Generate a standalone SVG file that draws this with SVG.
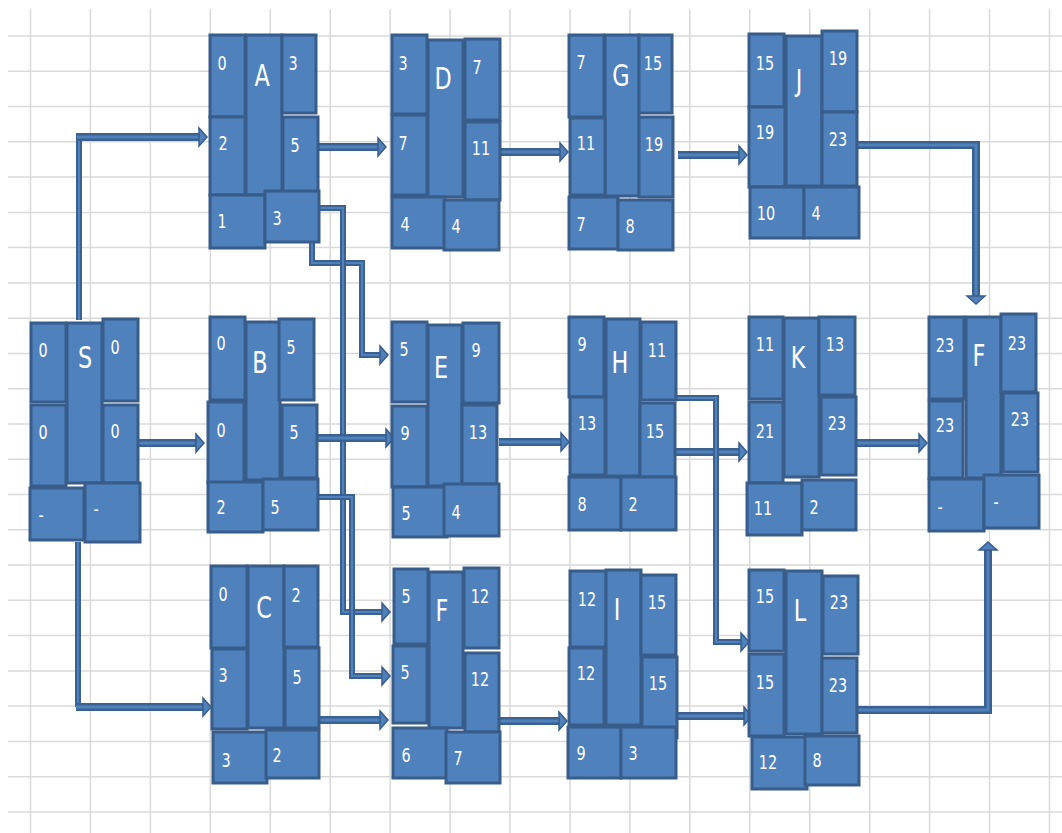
<svg xmlns="http://www.w3.org/2000/svg" width="1062" height="833" viewBox="0 0 1062 833">
<style>
.grid{stroke:#D9D9D9;stroke-width:1.5;fill:none}
.b{fill:#4F81BD;stroke:#385D8A;stroke-width:3}
.co{fill:none;stroke:#3A6190;stroke-width:8}
.ci{fill:none;stroke:#4F81BD;stroke-width:3}
.to{fill:none;stroke:#3A6190;stroke-width:6}
.ti{fill:none;stroke:#4F81BD;stroke-width:2}
text{fill:#FFFFFF;font-family:"DejaVu Sans Condensed","DejaVu Sans",sans-serif;text-anchor:middle}
.n{font-size:20px}
.L{font-size:31px}
</style>
<defs>
<marker id="ah" markerUnits="userSpaceOnUse" markerWidth="12" markerHeight="22" refX="0" refY="10" orient="auto" overflow="visible">
<path d="M0,1 L8,10 L0,19 z" fill="#4F81BD" stroke="#385D8A" stroke-width="1.5"/>
</marker>
</defs>
<rect width="1062" height="833" fill="#FFFFFF"/>
<g id="grid">
<path class="grid" d="M30.5,9V833M90.4,9V833M150.4,9V833M210.3,9V833M270.3,9V833M330.2,9V833M390.1,9V833M450.1,9V833M510,9V833M570,9V833M629.9,9V833M689.8,9V833M749.8,9V833M809.7,9V833M869.7,9V833M929.6,9V833M989.5,9V833M1049.5,9V833"/>
<path class="grid" d="M8,36H1062M8,71.3H1062M8,106.5H1062M8,141.8H1062M8,177.1H1062M8,212.4H1062M8,247.6H1062M8,282.9H1062M8,318.2H1062M8,353.4H1062M8,388.7H1062M8,424H1062M8,459.2H1062M8,494.5H1062M8,529.8H1062M8,565.1H1062M8,600.3H1062M8,635.6H1062M8,670.9H1062M8,706.1H1062M8,741.4H1062M8,776.7H1062M8,811.9H1062"/>
</g>
<g id="connectors">
<path class="to" d="M79,320V133"/><path class="ti" d="M79,320V133"/>
<path class="co" d="M77,137H199"/><path class="ci" d="M77,137H199" marker-end="url(#ah)"/>
<path class="co" d="M138,443H196"/><path class="ci" d="M138,443H196" marker-end="url(#ah)"/>
<path class="to" d="M78,542V707"/><path class="ti" d="M78,542V707"/>
<path class="co" d="M76,707H203"/><path class="ci" d="M76,707H203" marker-end="url(#ah)"/>
<path class="co" d="M318,147H378"/><path class="ci" d="M318,147H378" marker-end="url(#ah)"/>
<path class="to" d="M312,243V263H362V355H380"/><path class="ti" d="M312,243V263H362V355H380" marker-end="url(#ah)"/>
<path class="to" d="M318,208H343V612H382"/><path class="ti" d="M318,208H343V612H382" marker-end="url(#ah)"/>
<path class="co" d="M317,438H386"/><path class="ci" d="M317,438H386" marker-end="url(#ah)"/>
<path class="to" d="M318,497H352V676H382"/><path class="ti" d="M318,497H352V676H382" marker-end="url(#ah)"/>
<path class="co" d="M319,720H380"/><path class="ci" d="M319,720H380" marker-end="url(#ah)"/>
<path class="co" d="M500,152H560"/><path class="ci" d="M500,152H560" marker-end="url(#ah)"/>
<path class="co" d="M678,155H739"/><path class="ci" d="M678,155H739" marker-end="url(#ah)"/>
<path class="co" d="M857,145H976V296"/><path class="ci" d="M857,145H976V296" marker-end="url(#ah)"/>
<path class="co" d="M499,442H561"/><path class="ci" d="M499,442H561" marker-end="url(#ah)"/>
<path class="co" d="M676,452H739"/><path class="ci" d="M676,452H739" marker-end="url(#ah)"/>
<path class="to" d="M676,398H716V642H741"/><path class="ti" d="M676,398H716V642H741" marker-end="url(#ah)"/>
<path class="co" d="M500,721H559"/><path class="ci" d="M500,721H559" marker-end="url(#ah)"/>
<path class="co" d="M677,716H744"/><path class="ci" d="M677,716H744" marker-end="url(#ah)"/>
<path class="co" d="M856,443H919"/><path class="ci" d="M856,443H919" marker-end="url(#ah)"/>
<path class="co" d="M857,710H988V550"/><path class="ci" d="M857,710H988V550" marker-end="url(#ah)"/>
</g>
<g id="node-S">
<rect class="b" x="31" y="323" width="35" height="79"/>
<rect class="b" x="67" y="323" width="35" height="160"/>
<rect class="b" x="103" y="319" width="35" height="82"/>
<rect class="b" x="31" y="405" width="35" height="81"/>
<rect class="b" x="103" y="405" width="35" height="78"/>
<rect class="b" x="30" y="488" width="54" height="52"/>
<rect class="b" x="85" y="483" width="55" height="59"/>
<text class="n" transform="translate(43,357) scale(0.8,1)">0</text><text class="L" transform="translate(85,368) scale(0.8,1)">S</text><text class="n" transform="translate(115,354) scale(0.8,1)">0</text>
<text class="n" transform="translate(43,439) scale(0.8,1)">0</text><text class="n" transform="translate(115,438) scale(0.8,1)">0</text>
<text class="n" transform="translate(41,522) scale(0.8,1)">-</text><text class="n" transform="translate(96,516) scale(0.8,1)">-</text>
</g>
<g id="node-A">
<rect class="b" x="210" y="35" width="35" height="82"/>
<rect class="b" x="246" y="35" width="36" height="160"/>
<rect class="b" x="282" y="35" width="34" height="78"/>
<rect class="b" x="210" y="117" width="35" height="78"/>
<rect class="b" x="283" y="117" width="35" height="75"/>
<rect class="b" x="210" y="195" width="55" height="53"/>
<rect class="b" x="265" y="191" width="54" height="51"/>
<text class="n" transform="translate(222,70) scale(0.8,1)">0</text><text class="L" transform="translate(262,86) scale(0.8,1)">A</text><text class="n" transform="translate(293,70) scale(0.8,1)">3</text>
<text class="n" transform="translate(223,150) scale(0.8,1)">2</text><text class="n" transform="translate(295,152) scale(0.8,1)">5</text>
<text class="n" transform="translate(222,228) scale(0.8,1)">1</text><text class="n" transform="translate(277,225) scale(0.8,1)">3</text>
</g>
<g id="node-B">
<rect class="b" x="210" y="317" width="35" height="83"/>
<rect class="b" x="246" y="322" width="34" height="158"/>
<rect class="b" x="279" y="319" width="35" height="81"/>
<rect class="b" x="208" y="402" width="36" height="81"/>
<rect class="b" x="282" y="405" width="35" height="73"/>
<rect class="b" x="208" y="482" width="55" height="50"/>
<rect class="b" x="263" y="479" width="55" height="51"/>
<text class="n" transform="translate(221,350) scale(0.8,1)">0</text><text class="L" transform="translate(260,373) scale(0.8,1)">B</text><text class="n" transform="translate(291,354) scale(0.8,1)">5</text>
<text class="n" transform="translate(221,437) scale(0.8,1)">0</text><text class="n" transform="translate(294,439) scale(0.8,1)">5</text>
<text class="n" transform="translate(221,514) scale(0.8,1)">2</text><text class="n" transform="translate(275,514) scale(0.8,1)">5</text>
</g>
<g id="node-C">
<rect class="b" x="211" y="566" width="36" height="82"/>
<rect class="b" x="248" y="566" width="36" height="162"/>
<rect class="b" x="284" y="566" width="34" height="81"/>
<rect class="b" x="212" y="649" width="35" height="80"/>
<rect class="b" x="285" y="648" width="34" height="80"/>
<rect class="b" x="213" y="732" width="54" height="51"/>
<rect class="b" x="266" y="730" width="53" height="48"/>
<text class="n" transform="translate(223,601) scale(0.8,1)">0</text><text class="L" transform="translate(264,618) scale(0.8,1)">C</text><text class="n" transform="translate(296,602) scale(0.8,1)">2</text>
<text class="n" transform="translate(223,682) scale(0.8,1)">3</text><text class="n" transform="translate(297,684) scale(0.8,1)">5</text>
<text class="n" transform="translate(226,767) scale(0.8,1)">3</text><text class="n" transform="translate(277,762) scale(0.8,1)">2</text>
</g>
<g id="node-D">
<rect class="b" x="392" y="35" width="35" height="79"/>
<rect class="b" x="428" y="40" width="35" height="157"/>
<rect class="b" x="465" y="39" width="35" height="81"/>
<rect class="b" x="392" y="115" width="35" height="80"/>
<rect class="b" x="465" y="122" width="35" height="78"/>
<rect class="b" x="392" y="197" width="53" height="51"/>
<rect class="b" x="444" y="200" width="55" height="50"/>
<text class="n" transform="translate(403,70) scale(0.8,1)">3</text><text class="L" transform="translate(443,89) scale(0.8,1)">D</text><text class="n" transform="translate(477,74) scale(0.8,1)">7</text>
<text class="n" transform="translate(403,150) scale(0.8,1)">7</text><text class="n" transform="translate(481,155) scale(0.8,1)">11</text>
<text class="n" transform="translate(405,231) scale(0.8,1)">4</text><text class="n" transform="translate(456,233) scale(0.8,1)">4</text>
</g>
<g id="node-E">
<rect class="b" x="392" y="322" width="35" height="80"/>
<rect class="b" x="428" y="325" width="34" height="161"/>
<rect class="b" x="463" y="323" width="36" height="80"/>
<rect class="b" x="392" y="406" width="35" height="81"/>
<rect class="b" x="462" y="405" width="35" height="79"/>
<rect class="b" x="393" y="487" width="54" height="50"/>
<rect class="b" x="444" y="484" width="55" height="52"/>
<text class="n" transform="translate(404,356) scale(0.8,1)">5</text><text class="L" transform="translate(441,378) scale(0.8,1)">E</text><text class="n" transform="translate(476,357) scale(0.8,1)">9</text>
<text class="n" transform="translate(405,440) scale(0.8,1)">9</text><text class="n" transform="translate(478,439) scale(0.8,1)">13</text>
<text class="n" transform="translate(406,520) scale(0.8,1)">5</text><text class="n" transform="translate(456,519) scale(0.8,1)">4</text>
</g>
<g id="node-F1">
<rect class="b" x="394" y="569" width="34" height="75"/>
<rect class="b" x="429" y="572" width="34" height="156"/>
<rect class="b" x="464" y="568" width="35" height="80"/>
<rect class="b" x="393" y="646" width="34" height="77"/>
<rect class="b" x="465" y="653" width="34" height="79"/>
<rect class="b" x="393" y="728" width="54" height="50"/>
<rect class="b" x="446" y="732" width="54" height="51"/>
<text class="n" transform="translate(406,603) scale(0.8,1)">5</text><text class="L" transform="translate(442,621) scale(0.8,1)">F</text><text class="n" transform="translate(480,603) scale(0.8,1)">12</text>
<text class="n" transform="translate(405,679) scale(0.8,1)">5</text><text class="n" transform="translate(480,686) scale(0.8,1)">12</text>
<text class="n" transform="translate(406,762) scale(0.8,1)">6</text><text class="n" transform="translate(458,765) scale(0.8,1)">7</text>
</g>
<g id="node-G">
<rect class="b" x="569" y="35" width="35" height="82"/>
<rect class="b" x="605" y="35" width="34" height="161"/>
<rect class="b" x="639" y="35" width="33" height="78"/>
<rect class="b" x="570" y="118" width="35" height="77"/>
<rect class="b" x="639" y="117" width="34" height="80"/>
<rect class="b" x="569" y="197" width="49" height="52"/>
<rect class="b" x="618" y="200" width="55" height="50"/>
<text class="n" transform="translate(581,69) scale(0.8,1)">7</text><text class="L" transform="translate(621,86) scale(0.8,1)">G</text><text class="n" transform="translate(653,70) scale(0.8,1)">15</text>
<text class="n" transform="translate(586,150) scale(0.8,1)">11</text><text class="n" transform="translate(654,151) scale(0.8,1)">19</text>
<text class="n" transform="translate(581,231) scale(0.8,1)">7</text><text class="n" transform="translate(630,233) scale(0.8,1)">8</text>
</g>
<g id="node-H">
<rect class="b" x="569" y="317" width="35" height="80"/>
<rect class="b" x="606" y="319" width="34" height="157"/>
<rect class="b" x="641" y="322" width="35" height="78"/>
<rect class="b" x="570" y="397" width="35" height="78"/>
<rect class="b" x="640" y="403" width="35" height="74"/>
<rect class="b" x="569" y="477" width="52" height="53"/>
<rect class="b" x="621" y="477" width="55" height="53"/>
<text class="n" transform="translate(582,351) scale(0.8,1)">9</text><text class="L" transform="translate(620,373) scale(0.8,1)">H</text><text class="n" transform="translate(657,357) scale(0.8,1)">11</text>
<text class="n" transform="translate(587,430) scale(0.8,1)">13</text><text class="n" transform="translate(655,438) scale(0.8,1)">15</text>
<text class="n" transform="translate(582,511) scale(0.8,1)">8</text><text class="n" transform="translate(633,511) scale(0.8,1)">2</text>
</g>
<g id="node-I">
<rect class="b" x="570" y="571" width="36" height="76"/>
<rect class="b" x="606" y="570" width="35" height="155"/>
<rect class="b" x="641" y="575" width="35" height="80"/>
<rect class="b" x="569" y="648" width="35" height="77"/>
<rect class="b" x="642" y="657" width="35" height="81"/>
<rect class="b" x="568" y="727" width="53" height="51"/>
<rect class="b" x="621" y="727" width="55" height="51"/>
<text class="n" transform="translate(587,606) scale(0.8,1)">12</text><text class="L" transform="translate(617,620) scale(0.8,1)">I</text><text class="n" transform="translate(657,609) scale(0.8,1)">15</text>
<text class="n" transform="translate(586,680) scale(0.8,1)">12</text><text class="n" transform="translate(658,690) scale(0.8,1)">15</text>
<text class="n" transform="translate(581,760) scale(0.8,1)">9</text><text class="n" transform="translate(633,760) scale(0.8,1)">3</text>
</g>
<g id="node-J">
<rect class="b" x="749" y="34" width="35" height="73"/>
<rect class="b" x="786" y="36" width="36" height="150"/>
<rect class="b" x="822" y="31" width="35" height="81"/>
<rect class="b" x="749" y="107" width="36" height="80"/>
<rect class="b" x="822" y="112" width="35" height="74"/>
<rect class="b" x="750" y="187" width="54" height="51"/>
<rect class="b" x="804" y="187" width="55" height="51"/>
<text class="n" transform="translate(765,70) scale(0.8,1)">15</text><text class="L" transform="translate(799,91) scale(0.8,1)">J</text><text class="n" transform="translate(838,65) scale(0.8,1)">19</text>
<text class="n" transform="translate(765,139) scale(0.8,1)">19</text><text class="n" transform="translate(838,146) scale(0.8,1)">23</text>
<text class="n" transform="translate(766,220) scale(0.8,1)">10</text><text class="n" transform="translate(816,220) scale(0.8,1)">4</text>
</g>
<g id="node-K">
<rect class="b" x="749" y="317" width="34" height="82"/>
<rect class="b" x="784" y="318" width="35" height="159"/>
<rect class="b" x="819" y="317" width="36" height="78"/>
<rect class="b" x="749" y="402" width="34" height="81"/>
<rect class="b" x="821" y="397" width="35" height="78"/>
<rect class="b" x="747" y="483" width="55" height="52"/>
<rect class="b" x="802" y="480" width="54" height="50"/>
<text class="n" transform="translate(765,351) scale(0.8,1)">11</text><text class="L" transform="translate(798,368) scale(0.8,1)">K</text><text class="n" transform="translate(835,351) scale(0.8,1)">13</text>
<text class="n" transform="translate(765,438) scale(0.8,1)">21</text><text class="n" transform="translate(837,430) scale(0.8,1)">23</text>
<text class="n" transform="translate(763,515) scale(0.8,1)">11</text><text class="n" transform="translate(814,514) scale(0.8,1)">2</text>
</g>
<g id="node-L">
<rect class="b" x="749" y="570" width="35" height="81"/>
<rect class="b" x="786" y="571" width="36" height="163"/>
<rect class="b" x="823" y="576" width="35" height="78"/>
<rect class="b" x="749" y="654" width="35" height="82"/>
<rect class="b" x="822" y="658" width="35" height="75"/>
<rect class="b" x="752" y="737" width="55" height="52"/>
<rect class="b" x="805" y="736" width="54" height="49"/>
<text class="n" transform="translate(765,603) scale(0.8,1)">15</text><text class="L" transform="translate(800,621) scale(0.8,1)">L</text><text class="n" transform="translate(839,609) scale(0.8,1)">23</text>
<text class="n" transform="translate(765,689) scale(0.8,1)">15</text><text class="n" transform="translate(838,692) scale(0.8,1)">23</text>
<text class="n" transform="translate(768,769) scale(0.8,1)">12</text><text class="n" transform="translate(817,767) scale(0.8,1)">8</text>
</g>
<g id="node-F2">
<rect class="b" x="929" y="317" width="35" height="82"/>
<rect class="b" x="966" y="317" width="35" height="161"/>
<rect class="b" x="1001" y="314" width="35" height="78"/>
<rect class="b" x="929" y="401" width="34" height="77"/>
<rect class="b" x="1003" y="393" width="35" height="79"/>
<rect class="b" x="929" y="479" width="55" height="52"/>
<rect class="b" x="984" y="475" width="55" height="53"/>
<text class="n" transform="translate(945,352) scale(0.8,1)">23</text><text class="L" transform="translate(979,366) scale(0.8,1)">F</text><text class="n" transform="translate(1017,350) scale(0.8,1)">23</text>
<text class="n" transform="translate(945,432) scale(0.8,1)">23</text><text class="n" transform="translate(1020,426) scale(0.8,1)">23</text>
<text class="n" transform="translate(940,514) scale(0.8,1)">-</text><text class="n" transform="translate(996,509) scale(0.8,1)">-</text>
</g>
</svg>
